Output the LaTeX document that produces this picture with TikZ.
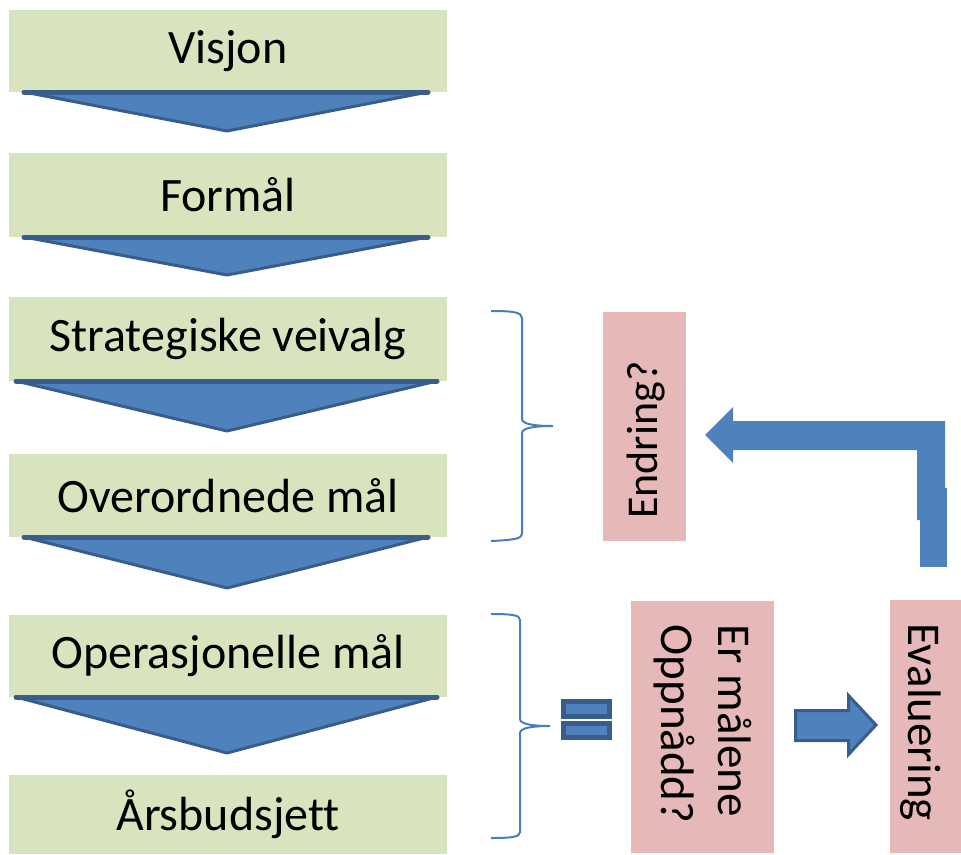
\documentclass[tikz,border=0pt]{standalone}
\usepackage{fontspec}
\setmainfont[Ligatures={NoCommon}]{Carlito}
\definecolor{boxgreen}{HTML}{D7E4BD}
\definecolor{boxpink}{HTML}{E6B9B8}
\definecolor{arrblue}{HTML}{4F81BD}
\definecolor{arrdark}{HTML}{385D8A}
\definecolor{bracecol}{HTML}{4A7EBB}
\begin{document}
\begin{tikzpicture}[x=1pt,y=-1pt,
  txt/.style={font=\fontsize{48}{58}\selectfont, text=black},
  rtxt/.style={font=\fontsize{47}{57}\selectfont, text=black, inner sep=0pt},
  greenbox/.style={txt, fill=boxgreen, minimum width=438pt, minimum height=83pt, inner sep=0pt},
  pinkbox/.style={fill=boxpink, inner sep=0pt},
  tri/.style={fill=arrblue, draw=arrdark, line width=3pt, line join=round},
  triedge/.style={draw=arrdark, line width=5pt, line cap=round},
  bracestyle/.style={draw=bracecol, line width=2pt},
  eqbar/.style={fill=arrblue, draw=arrdark, line width=5pt},
  fatarrow/.style={fill=arrblue, draw=arrdark, line width=3pt, line join=miter},
  bentarrow/.style={fill=arrblue}
]
\useasboundingbox (0,0) rectangle (961,854);

% left column boxes
\node[greenbox, minimum height=82pt] (visjon) at (228,51) {Visjon};
\node[greenbox, minimum height=84pt] (formal) at (228,195) {Formål};
\node[greenbox, minimum height=84pt] (strat) at (228,339) {Strategiske veivalg};
\node[greenbox, minimum height=83pt] (overord) at (228,495.5) {Overordnede mål};
\node[greenbox, minimum height=82pt] (operas) at (228,656) {Operasjonelle mål};
\node[greenbox, minimum height=79pt] (arsbud) at (228,814.5) {Årsbudsjett};

% downward triangles
\draw[tri] (24,92) -- (428,92) -- (227,131) -- cycle;
\draw[triedge] (24,92) -- (428,92);
\draw[tri] (24,237) -- (428,237) -- (227,275) -- cycle;
\draw[triedge] (24,237) -- (428,237);
\draw[tri] (16,381) -- (437,381) -- (227,431) -- cycle;
\draw[triedge] (16,381) -- (437,381);
\draw[tri] (24,537) -- (428,537) -- (227,588) -- cycle;
\draw[triedge] (24,537) -- (428,537);
\draw[tri] (16,697) -- (437,697) -- (227,753) -- cycle;
\draw[triedge] (16,697) -- (437,697);

% braces
\draw[bracestyle] (491,311) .. controls (512,311) and (522,312) .. (522,318)
  -- (522,419) .. controls (522,424) and (534,426) .. (553,426)
  .. controls (534,426) and (522,428) .. (522,433)
  -- (522,534) .. controls (522,539) and (512,540) .. (491,541);
\draw[bracestyle] (491,614) .. controls (512,614) and (520,615) .. (520,620)
  -- (520,719) .. controls (520,724) and (532,726) .. (550,726)
  .. controls (532,726) and (520,728) .. (520,733)
  -- (520,832) .. controls (520,837) and (512,838) .. (491,838);

% equals sign
\draw[eqbar] (563.5,701.5) rectangle (609.5,716.5);
\draw[eqbar] (563.5,723.5) rectangle (609.5,737.5);

% pink boxes
\node[pinkbox, minimum width=83pt, minimum height=229pt] (endring) at (644.5,426.5) {};
\node[rtxt, font=\fontsize{44}{54}\selectfont, rotate=90] (endringtxt) at (646,440) {Endring?};
\node[pinkbox, minimum width=143pt, minimum height=252pt] (ermal) at (702.5,727) {};
\node[rtxt, rotate=-90, align=left] (ermaltxt) at (702.5,724) {Er målene\\Oppnådd?};
\node[pinkbox, minimum width=71pt, minimum height=253pt] (evaluering) at (925.5,726.5) {};
\node[rtxt, rotate=-90] (evaltxt) at (921,722) {Evaluering};

% right block arrow
\draw[fatarrow] (795.5,710.5) -- (848.5,710.5) -- (848.5,695.5) -- (876,725) -- (848.5,754.5) -- (848.5,740.5) -- (795.5,740.5) -- cycle;

% bent arrow back to Endring?
\fill[bentarrow] (705,435) -- (733,407) -- (733,421) -- (945,421) -- (945,520) -- (917,520) -- (917,450) -- (733,450) -- (733,463) -- cycle;
\fill[bentarrow] (920,488) rectangle (947,567);
\end{tikzpicture}
\end{document}
